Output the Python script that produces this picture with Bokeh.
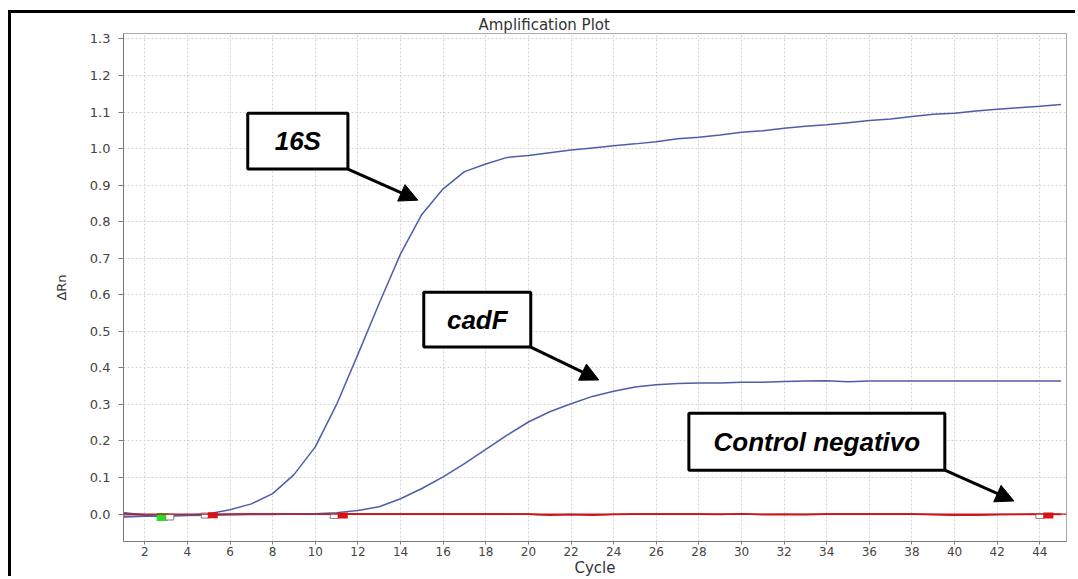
from bokeh.plotting import figure
from bokeh.models import (Range1d, FixedTicker, NumeralTickFormatter, BoxAnnotation,
                          Label, Arrow, NormalHead, Span, ColumnDataSource)
from bokeh.embed import file_html
from bokeh.resources import INLINE

# ---------------- data ----------------
cycles = list(range(1, 46))

amp_16s = [0.004, -0.002, -0.004, -0.003, 0.001, 0.012, 0.028, 0.056, 0.108, 0.184,
           0.300, 0.437, 0.577, 0.712, 0.820, 0.890, 0.937, 0.958, 0.976, 0.981,
           0.989, 0.996, 1.002, 1.008, 1.013, 1.019, 1.027, 1.031, 1.037, 1.045,
           1.049, 1.056, 1.061, 1.065, 1.071, 1.077, 1.081, 1.088, 1.094, 1.097,
           1.103, 1.108, 1.112, 1.116, 1.121]

amp_cadf = [-0.006, -0.006, -0.005, -0.004, -0.003, -0.002, -0.001, -0.001, 0.000, 0.001,
            0.004, 0.010, 0.020, 0.042, 0.070, 0.102, 0.138, 0.177, 0.216, 0.252,
            0.280, 0.302, 0.322, 0.336, 0.348, 0.354, 0.357, 0.359, 0.359, 0.361,
            0.361, 0.363, 0.364, 0.365, 0.362, 0.364, 0.364, 0.364, 0.364, 0.364,
            0.364, 0.364, 0.364, 0.364, 0.364]

amp_ctrl1 = [0.002, -0.003, -0.004, -0.003, -0.002, -0.001, 0.000, 0.000, 0.000, 0.000,
             0.000, 0.000, 0.000, 0.000, 0.000, 0.000, 0.000, 0.000, 0.000, 0.000,
             -0.003, -0.001, -0.003, -0.001, 0.000, 0.000, 0.000, 0.000, -0.001, 0.001,
             -0.002, -0.001, -0.002, 0.000, 0.000, 0.000, 0.000, 0.000, -0.002, -0.003,
             -0.003, -0.002, -0.001, 0.000, -0.001]

amp_ctrl2 = [-0.008, -0.006, -0.004, -0.002, -0.001, 0.000, 0.000, 0.000, 0.000, 0.000,
             0.000, 0.000, 0.000, 0.000, 0.000, 0.000, 0.000, 0.000, 0.000, -0.001,
             -0.002, -0.002, -0.002, -0.001, 0.000, 0.000, 0.000, 0.000, 0.000, -0.001,
             -0.001, -0.001, -0.001, 0.000, 0.000, 0.000, 0.000, 0.000, -0.001, -0.002,
             -0.002, -0.001, -0.001, 0.000, 0.000]

threshold = 0.0

# baseline start / end markers (cycle, deltaRn)
marker_x = [2.82, 3.17, 4.84, 5.19, 10.89, 11.29, 44.00, 44.40]
marker_y = [-0.008, -0.008, -0.004, -0.003, -0.005, -0.004, -0.005, -0.004]

x_ticks = list(range(2, 45, 2))
y_ticks = [round(0.1 * i, 1) for i in range(0, 14)]

# annotation boxes: (text, left, right, top, bottom, arrow tip x, arrow tip y)
annotations = [
    ("16S", 6.83, 11.53, 1.097, 0.944, 14.81, 0.859),
    ("cadF", 15.09, 20.11, 0.607, 0.457, 23.30, 0.367),
    ("Control negativo", 27.53, 39.54, 0.276, 0.120, 42.78, 0.036),
]

# ---------------- figure ----------------
p = figure(width=1067, height=566,
           x_range=Range1d(1.0, 45.25), y_range=Range1d(-0.075, 1.315),
           output_backend="svg", toolbar_location=None,
           min_border_left=112, min_border_right=12,
           min_border_top=20, min_border_bottom=38,
           title="Amplification Plot")

# outer black frame (only top/left edges are inside the window)
p.styles = {"margin-left": "8px", "margin-top": "10px",
            "border-left": "3px solid black", "border-top": "3px solid black"}

p.background_fill_color = "white"
p.border_fill_color = "white"
p.outline_line_color = "#a8a8a8"
p.outline_line_width = 1

p.title.text_font = "DejaVu Sans"
p.title.text_font_size = "15px"
p.title.text_font_style = "normal"
p.title.text_color = "#333333"
p.title.align = "left"
p.title.offset = 355
p.title.standoff = 0
p.title.text_line_height = 1.0

for ax in (p.xaxis[0], p.yaxis[0]):
    ax.axis_line_color = "#7a7a7a"
    ax.major_tick_line_color = "#7a7a7a"
    ax.minor_tick_line_color = None
    ax.major_label_text_font = "DejaVu Sans"
    ax.major_label_text_font_size = "12px"
    ax.major_label_text_color = "#444444"
    ax.axis_label_text_font = "DejaVu Sans"
    ax.axis_label_text_font_style = "normal"
    ax.axis_label_text_color = "#333333"

p.xaxis.ticker = FixedTicker(ticks=x_ticks)
p.yaxis.ticker = FixedTicker(ticks=y_ticks)
p.yaxis.formatter = NumeralTickFormatter(format="0.0")
p.yaxis.major_label_text_font_size = "13px"
p.xaxis.axis_label = "Cycle"
p.yaxis.axis_label = "ΔRn"
p.xaxis.axis_label_text_font_size = "15px"
p.yaxis.axis_label_text_font_size = "13px"
p.xaxis.major_tick_out = 3
p.xaxis.major_tick_in = 0
p.xaxis.major_label_standoff = 2
p.xaxis.axis_label_standoff = 0
p.yaxis.major_tick_out = 5
p.yaxis.major_tick_in = 0
p.yaxis.major_label_standoff = 8
p.yaxis.axis_label_standoff = 18

p.xgrid.grid_line_color = "#d4d4d4"
p.ygrid.grid_line_color = "#d4d4d4"
p.xgrid.grid_line_dash = "2 2"
p.ygrid.grid_line_dash = "2 2"

src = ColumnDataSource(dict(cycle=cycles, s16=amp_16s, cadf=amp_cadf,
                            c1=amp_ctrl1, c2=amp_ctrl2))

blue = "#4d5ea8"
red = "#e01010"
p.line("cycle", "c2", source=src, line_color="#7a3f9a", line_width=1.3)
p.line("cycle", "c1", source=src, line_color=red, line_width=1.6)
p.line("cycle", "cadf", source=src, line_color=blue, line_width=1.5)
p.line("cycle", "s16", source=src, line_color=blue, line_width=1.5)

p.add_layout(Span(location=threshold, dimension="width", line_color="#c01818",
                  line_width=1.2))

# markers
m_fill = ["#22e022", "white", "white", "#e01010", "white", "#e01010", "white", "#e01010"]
m_line = ["rgba(0,0,0,0)", "#808080", "#808080", "rgba(0,0,0,0)", "#808080",
          "rgba(0,0,0,0)", "#808080", "rgba(0,0,0,0)"]
m_w = [11, 8, 8, 10, 8, 10, 8, 10]
m_h = [8, 6, 5, 6, 5, 6, 5, 6]
msrc = ColumnDataSource(dict(x=marker_x, y=marker_y, fill=m_fill, w=m_w, h=m_h, line=m_line))
p.rect("x", "y", width="w", height="h", width_units="screen", height_units="screen",
       source=msrc, fill_color="fill", line_color="line", line_width=1)

# annotation boxes with arrows
for text, l, r, t, b, tx, ty in annotations:
    p.add_layout(BoxAnnotation(left=l, right=r, top=t, bottom=b,
                               fill_color="white", fill_alpha=1.0,
                               line_color="black", line_width=3, line_alpha=1.0))
    p.add_layout(Label(x=(l + r) / 2, y=(t + b) / 2, text=text,
                       text_align="center", text_baseline="middle",
                       text_font="Liberation Sans", text_font_size="26px",
                       text_font_style="bold italic", text_color="black"))
    p.add_layout(Arrow(end=NormalHead(size=18, fill_color="black", line_color="black"),
                       x_start=r, y_start=b, x_end=tx, y_end=ty,
                       line_color="black", line_width=3))

open("out.html", "w").write(file_html(p, INLINE))
